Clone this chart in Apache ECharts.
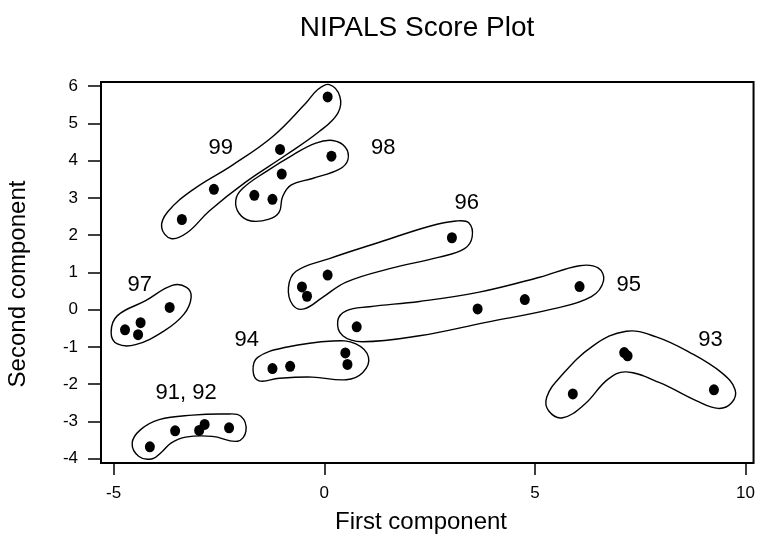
<!DOCTYPE html>
<html>
<head>
<meta charset="utf-8">
<script src="https://cdn.jsdelivr.net/npm/echarts@6/dist/echarts.min.js"></script>
<style>html,body{margin:0;padding:0;background:#fff}#c{width:758px;height:535px}</style>
</head>
<body>
<div id="c"></div>
<script>
// ---- data ----
const xTicks = [-5, 0, 5, 10];
const yTicks = [-4, -3, -2, -1, 0, 1, 2, 3, 4, 5, 6];

const groupNames = ['91, 92', '93', '94', '95', '96', '97', '98', '99'];

const pts91_92 = [[-4.14,-3.68],[-3.54,-3.25],[-2.97,-3.24],[-2.84,-3.08],[-2.26,-3.17]];
const pts93 = [[5.90,-2.26],[7.12,-1.15],[7.20,-1.24],[9.25,-2.15]];
const pts94 = [[-1.23,-1.58],[-0.81,-1.52],[0.50,-1.16],[0.55,-1.47]];
const pts95 = [[0.77,-0.46],[3.64,0.02],[4.76,0.27],[6.06,0.62]];
const pts96 = [[-0.53,0.61],[-0.41,0.36],[0.08,0.93],[3.03,1.93]];
const pts97 = [[-4.73,-0.54],[-4.42,-0.67],[-4.36,-0.35],[-3.67,0.06]];
const pts98 = [[-1.66,3.07],[-1.23,2.96],[-1.01,3.64],[0.17,4.12]];
const pts99 = [[-3.38,2.42],[-2.62,3.23],[-1.05,4.30],[0.08,5.71]];

// outline (enclosing curve) vertices, in data units
const hull91_92 = [[-4.56,-3.58],[-4.40,-3.94],[-4.08,-4.00],[-3.84,-3.80],[-3.64,-3.58],[-3.29,-3.42],[-2.66,-3.40],[-2.06,-3.53],[-1.86,-3.26],[-1.98,-2.86],[-2.34,-2.80],[-3.13,-2.83],[-3.92,-2.95],[-4.36,-3.22]];
const hull93 = [[5.59,-1.82],[6.38,-0.97],[7.17,-0.58],[7.88,-0.73],[8.68,-1.15],[9.43,-1.69],[9.75,-2.14],[9.67,-2.50],[9.35,-2.65],[8.84,-2.45],[7.96,-1.96],[7.17,-1.67],[6.73,-1.87],[6.18,-2.54],[5.66,-2.90],[5.33,-2.72],[5.28,-2.35]];
const hull94 = [[-1.58,-1.28],[-0.91,-1.01],[0.20,-0.84],[0.75,-0.92],[1.05,-1.28],[0.91,-1.69],[0.52,-1.88],[-0.28,-1.81],[-1.07,-1.84],[-1.55,-1.91],[-1.69,-1.64]];
const hull95 = [[0.52,-0.03],[0.32,-0.30],[0.44,-0.70],[0.91,-0.86],[2.26,-0.70],[3.84,-0.34],[5.43,0.02],[6.34,0.35],[6.63,0.78],[6.50,1.12],[6.06,1.18],[5.11,0.87],[3.68,0.47],[2.26,0.22],[1.07,0.08]];
const hull96 = [[3.13,2.38],[3.43,2.33],[3.51,1.95],[3.33,1.64],[2.73,1.41],[1.55,1.10],[0.52,0.74],[-0.04,0.33],[-0.48,0.02],[-0.75,0.13],[-0.85,0.60],[-0.67,1.03],[0.12,1.37],[1.31,1.81],[2.50,2.24]];
const hull97 = [[-4.91,-0.16],[-4.24,0.24],[-3.61,0.65],[-3.27,0.60],[-3.16,0.33],[-3.33,-0.12],[-3.80,-0.57],[-4.48,-0.94],[-4.91,-0.92],[-5.06,-0.61]];
const hull98 = [[0.20,4.54],[0.50,4.36],[0.56,4.02],[0.36,3.77],[-0.28,3.52],[-0.79,3.34],[-0.99,3.03],[-1.07,2.62],[-1.31,2.43],[-1.74,2.38],[-2.02,2.58],[-2.10,2.94],[-1.94,3.25],[-1.39,3.70],[-0.75,4.15],[-0.20,4.47]];
const hull99 = [[0.12,6.04],[0.37,5.72],[0.32,5.27],[-0.12,4.78],[-0.91,4.15],[-1.86,3.43],[-2.73,2.65],[-3.25,2.07],[-3.64,1.91],[-3.86,2.21],[-3.72,2.62],[-3.13,3.21],[-2.18,3.88],[-1.23,4.64],[-0.44,5.54],[-0.16,5.90]];

// where each group's name sits, in data units
const labelAnchors = [[-3.28,-2.24],[9.17,-0.81],[-1.84,-0.81],[7.23,0.66],[3.38,2.87],[-4.38,0.66],[1.40,4.35],[-2.46,4.33]];

// ---- build ----
const allPts = [].concat(pts91_92, pts93, pts94, pts95, pts96, pts97, pts98, pts99);
const hulls = [hull91_92, hull93, hull94, hull95, hull96, hull97, hull98, hull99];
const FONT = '"Liberation Sans", Arial, sans-serif';
const tickRich = {t: {fontFamily: FONT, fontSize: 17, color: '#000'}};
const tickFmt = v => '{t|' + v + '}';

const chart = echarts.init(document.getElementById('c'), null, {renderer: 'canvas'});
chart.setOption({
  backgroundColor: '#ffffff',
  animation: false,
  title: {
    text: 'NIPALS Score Plot',
    left: 412, textAlign: 'center', top: 9,
    textStyle: {fontFamily: FONT, fontSize: 28, fontWeight: 'normal', color: '#000'}
  },
  grid: {left: 101, right: 4, top: 82, bottom: 72, show: true, borderColor: '#000', borderWidth: 2, backgroundColor: 'transparent'},
  xAxis: {
    type: 'value', min: -5.30, max: 10.19,
    axisLine: {show: false, onZero: false},
    axisTick: {show: true, customValues: xTicks, length: 12, lineStyle: {color: '#000', width: 1.5}},
    axisLabel: {customValues: xTicks, margin: 22, fontFamily: FONT, fontSize: 17, color: '#000', formatter: tickFmt, rich: tickRich},
    splitLine: {show: false}
  },
  yAxis: {
    type: 'value', min: -4.115, max: 6.11,
    axisLine: {show: false, onZero: false},
    axisTick: {show: true, customValues: yTicks, length: 13, lineStyle: {color: '#000', width: 1.5}},
    axisLabel: {customValues: yTicks, margin: 23, fontFamily: FONT, fontSize: 17, color: '#000', formatter: tickFmt, rich: tickRich},
    splitLine: {show: false}
  },
  graphic: [
    {type: 'text', x: 421, y: 522, style: {text: 'First component', fontFamily: FONT, fontSize: 24, fill: '#000', textAlign: 'center', textVerticalAlign: 'middle'}},
    {type: 'text', x: 18, y: 284, rotation: Math.PI / 2, style: {text: 'Second component', fontFamily: FONT, fontSize: 24, fill: '#000', textAlign: 'center', textVerticalAlign: 'middle'}}
  ],
  series: [
    {
      type: 'custom',
      silent: true,
      data: hulls.map((h, i) => [i]),
      encode: {x: -1, y: -1},
      renderItem: function (params, api) {
        const h = hulls[params.dataIndex];
        const pts = h.map(p => api.coord(p));
        return {
          type: 'polygon',
          shape: {points: pts, smooth: 0.4},
          style: {fill: 'none', stroke: '#000', lineWidth: 1.4}
        };
      }
    },
    {
      type: 'scatter',
      data: allPts,
      symbol: 'circle',
      symbolSize: [10, 11],
      itemStyle: {color: '#000', opacity: 1}
    },
    {
      type: 'scatter',
      silent: true,
      data: labelAnchors.map((p, i) => ({value: p, name: groupNames[i]})),
      symbolSize: 1,
      itemStyle: {color: 'rgba(0,0,0,0)', opacity: 1},
      label: {show: true, position: 'inside', formatter: '{b}', fontFamily: FONT, fontSize: 22, color: '#000', opacity: 1}
    }
  ]
});
</script>
</body>
</html>
